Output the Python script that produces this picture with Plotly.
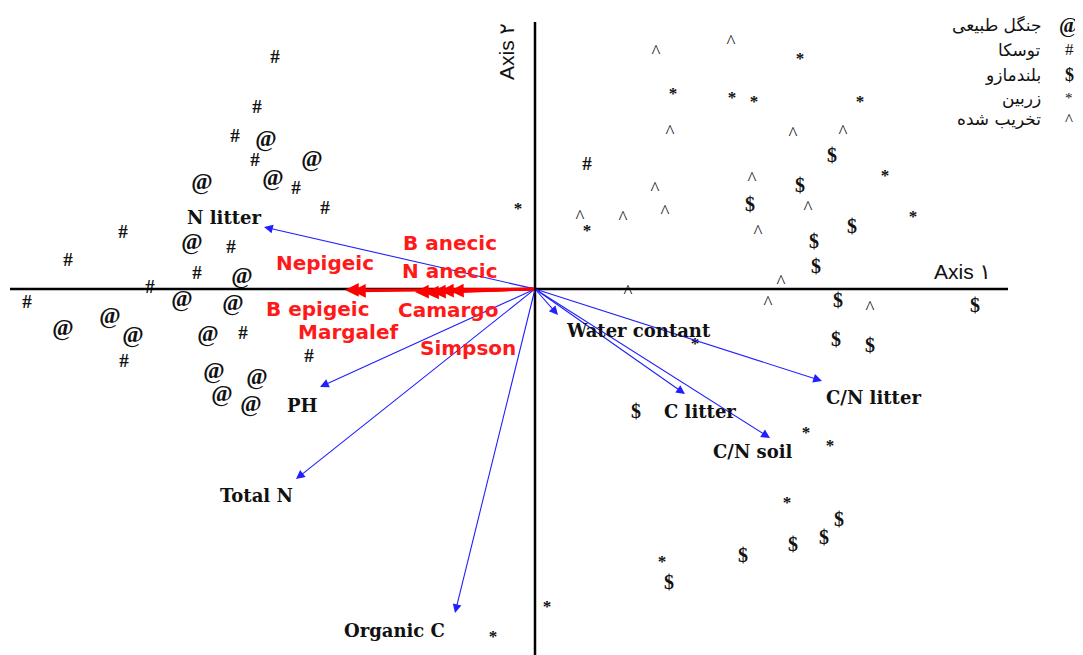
import plotly.graph_objects as go

# ---- site scores (ordination units) ----
jungle_x = [-2.69, -2.23, -3.33, -2.62, -3.43, -2.93, -3.53, -3.02, -4.25, -4.72, -4.02, -3.27, -3.21, -2.78, -3.13, -2.84]
jungle_y = [1.49, 1.29, 1.06, 1.10, 0.46, 0.12, -0.11, -0.15, -0.28, -0.40, -0.47, -0.46, -0.83, -0.89, -1.06, -1.16]

alder_x = [-2.60, -2.78, -3.00, -2.80, -2.39, -2.10, -4.12, -4.67, -3.04, -3.38, -3.85, -5.08, -2.92, -4.11, -2.26, 0.52]
alder_y = [2.31, 1.81, 1.52, 1.28, 1.00, 0.80, 0.56, 0.28, 0.41, 0.15, 0.01, -0.14, -0.45, -0.73, -0.68, 1.24]

oak_x = [2.97, 2.65, 2.15, 3.17, 2.79, 2.81, 3.03, 4.40, 3.01, 3.35, 1.01, 3.04, 2.89, 2.58, 2.08, 1.34]
oak_y = [1.32, 1.02, 0.83, 0.61, 0.46, 0.21, -0.13, -0.18, -0.52, -0.58, -1.24, -2.32, -2.50, -2.57, -2.68, -2.95]

zarbin_x = [2.65, 1.38, 1.97, 2.19, 3.25, 3.50, 3.78, 0.52, -0.17, 1.60, 2.71, 2.95, 0.12, -0.42, 2.52, 1.27]
zarbin_y = [2.29, 1.94, 1.90, 1.86, 1.86, 1.12, 0.71, 0.57, 0.79, -0.56, -1.45, -1.58, -3.19, -3.49, -2.15, -2.74]

degraded_x = [1.96, 1.21, 1.35, 2.58, 3.08, 2.17, 1.20, 2.73, 0.45, 0.88, 1.30, 2.23, 2.46, 0.93, 2.33, 3.35]
degraded_y = [2.46, 2.36, 1.56, 1.54, 1.56, 1.09, 0.99, 0.80, 0.71, 0.70, 0.76, 0.56, 0.06, -0.04, -0.15, -0.20]

groups = ["جنگل طبیعی", "توسکا", "بلندمازو", "زربین", "تخریب شده"]
group_symbols = ["@", "#", "$", "*", "^"]

# ---- environmental vectors (blue) ----
env_names = ["N litter", "PH", "Total N", "Organic C", "Water contant", "C litter", "C/N soil", "C/N litter"]
env_x = [-2.71, -2.15, -2.39, -0.80, 0.23, 1.50, 2.35, 2.87]
env_y = [0.62, -0.98, -1.90, -3.24, -0.26, -1.05, -1.49, -0.92]
env_lab_x = [-3.11, -2.33, -2.79, -1.41, 1.03, 1.65, 2.18, 3.38]
env_lab_y = [0.72, -1.16, -2.06, -3.41, -0.41, -1.22, -1.62, -1.08]

# ---- biological vectors (red) ----
bio_names = ["B anecic", "N anecic", "Nepigeic", "B epigeic", "Camargo", "Margalef", "Simpson"]
bio_x = [-0.95, -1.03, -1.90, -1.83, -1.10, -1.20, -0.85]
bio_y = [-0.02, -0.03, -0.01, -0.02, -0.04, -0.03, -0.02]
bio_lab_x = [-0.85, -0.85, -2.10, -2.17, -0.87, -1.87, -0.67]
bio_lab_y = [0.46, 0.18, 0.26, -0.20, -0.21, -0.43, -0.59]

axis1_label = "Axis ۱"
axis2_label = "Axis ۲"

# page body has an 8px margin: figure drawn 8px in from the window corner
W, H = 1075, 647
OFF = 8

fig = go.Figure()

serif = "Liberation Serif, Times New Roman, serif"
sym_style = {
    "@": dict(size=23, family=serif, weight="bold"),
    "#": dict(size=19, family=serif, weight="bold"),
    "$": dict(size=20, family=serif, weight="bold"),
    "*": dict(size=17, family=serif, weight="bold"),
    "^": dict(size=19, family=serif, weight="normal"),
}
sets = [(jungle_x, jungle_y), (alder_x, alder_y), (oak_x, oak_y), (zarbin_x, zarbin_y), (degraded_x, degraded_y)]
for (xs, ys), sym, name in zip(sets, group_symbols, groups):
    st = sym_style[sym]
    fig.add_trace(go.Scatter(
        x=xs, y=ys, mode="text", text=[sym] * len(xs), name=name,
        textposition="middle center",
        textfont=dict(size=st["size"], family=st["family"], color="#111111", weight=st["weight"]),
        showlegend=False, hoverinfo="skip"))

ann = []
# blue arrows
for x, y in zip(env_x, env_y):
    ann.append(dict(x=x, y=y, ax=0, ay=0, xref="x", yref="y", axref="x", ayref="y",
                    text="", showarrow=True, arrowhead=2, arrowsize=1.6, arrowwidth=1.1,
                    arrowcolor="#1f1fff", standoff=0, startstandoff=0))
for t, x, y in zip(env_names, env_lab_x, env_lab_y):
    ann.append(dict(x=x, y=y, xref="x", yref="y", text="<b>%s</b>" % t, showarrow=False,
                    font=dict(size=18, family="DejaVu Serif, serif", color="#111111")))
# red arrows
for x, y in zip(bio_x, bio_y):
    ann.append(dict(x=x, y=y, ax=0, ay=0, xref="x", yref="y", axref="x", ayref="y",
                    text="", showarrow=True, arrowhead=2, arrowsize=1.1, arrowwidth=2.5,
                    arrowcolor="#ff0000", standoff=0, startstandoff=0))
for t, x, y in zip(bio_names, bio_lab_x, bio_lab_y):
    ann.append(dict(x=x, y=y, xref="x", yref="y", text="<b>%s</b>" % t, showarrow=False,
                    font=dict(size=20, family="DejaVu Sans, sans-serif", color="#ff1a1a")))
# axis titles
ann.append(dict(x=4.27, y=0.18, xref="x", yref="y", text=axis1_label, showarrow=False,
                font=dict(size=21, family="Liberation Sans, DejaVu Sans, sans-serif", color="#111111")))
ann.append(dict(x=-0.29, y=2.37, xref="x", yref="y", text=axis2_label, showarrow=False, textangle=-90,
                font=dict(size=21, family="Liberation Sans, DejaVu Sans, sans-serif", color="#111111")))

# legend (manual, top right) -- positions given in reference pixels
leg_py = [25, 50, 75, 98, 119]
for g, s, py in zip(groups, group_symbols, leg_py):
    st = sym_style[s]
    yy = 1 - (py - OFF) / H
    ann.append(dict(x=(1043 - OFF) / W, y=yy, xref="paper", yref="paper", text=g, showarrow=False,
                    xanchor="right", yanchor="middle",
                    font=dict(size=17, family="DejaVu Sans, sans-serif", color="#111111")))
    ann.append(dict(x=(1069 - OFF) / W, y=yy, xref="paper", yref="paper",
                    text="<b>%s</b>" % s if s in "@$" else s,
                    showarrow=False, xanchor="center", yanchor="middle",
                    font=dict(size=st["size"] - 2, family=serif, color="#111111")))

shapes = [
    dict(type="line", xref="x", yref="y", x0=-5.25, x1=4.73, y0=0, y1=0, line=dict(color="black", width=2.5)),
    dict(type="line", xref="x", yref="y", x0=0, x1=0, y0=2.67, y1=-3.7, line=dict(color="black", width=2.5)),
]

fig.update_layout(
    width=W, height=H, margin=dict(l=0, r=0, t=0, b=0),
    paper_bgcolor="white", plot_bgcolor="white",
    xaxis=dict(range=[(OFF - 535) / 100, (1083 - 535) / 100], visible=False, fixedrange=True),
    yaxis=dict(range=[(289 - 655) / 100, (289 - OFF) / 100], visible=False, fixedrange=True),
    annotations=ann, shapes=shapes, showlegend=False,
)

fig.write_html("out.html")
